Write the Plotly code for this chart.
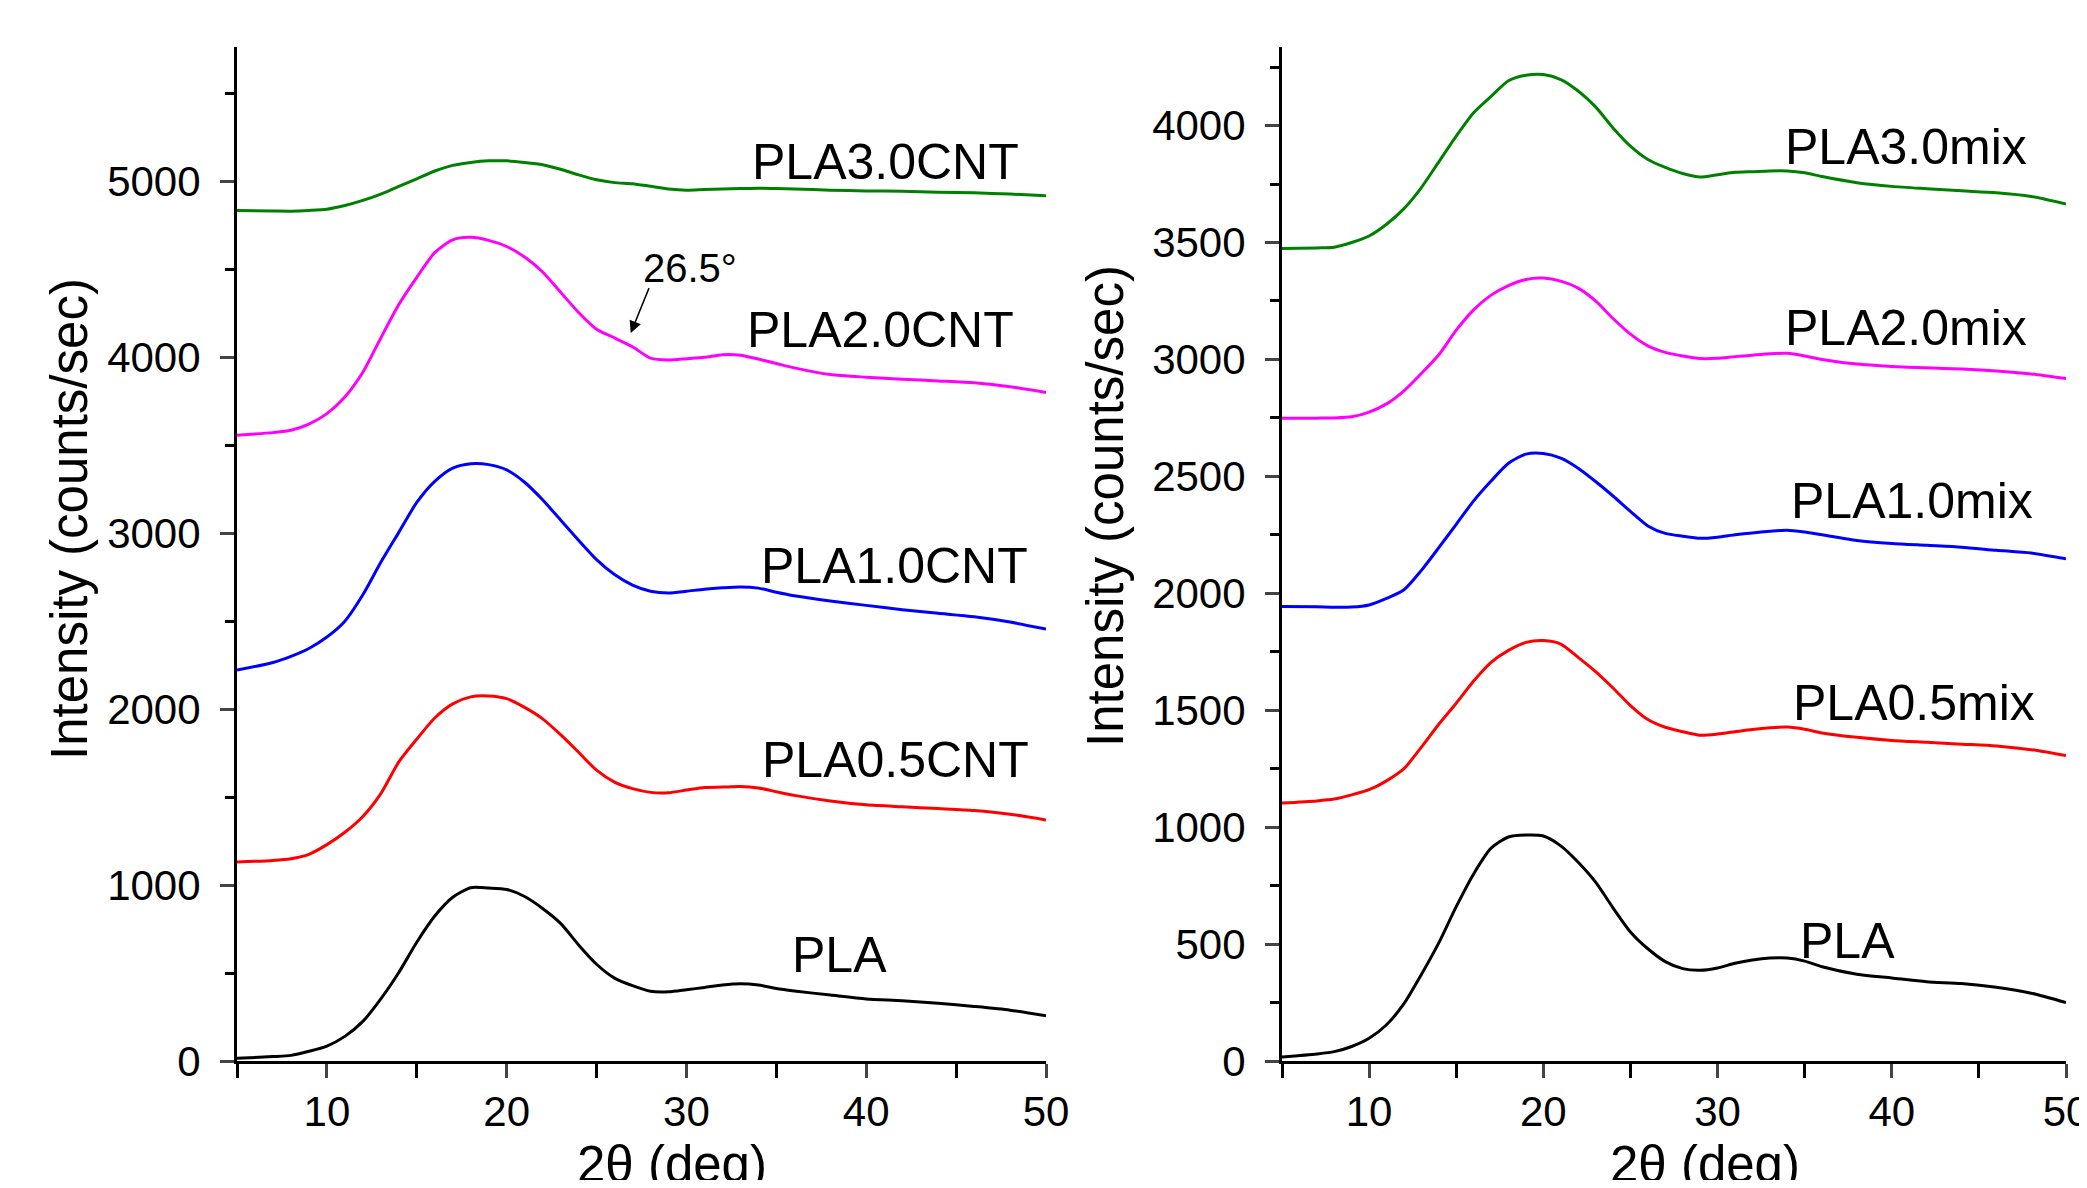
import plotly.graph_objects as go

two_theta = [5, 7, 8, 9, 10, 11, 12, 13, 14, 15, 16, 17, 18, 19, 20, 21, 22, 23, 24, 25,
             26, 27, 28, 29, 30, 31, 32, 33, 34, 35, 36, 38, 40, 42, 44, 46, 48, 50]

# Left panel (PLA / CNT)
pla_left = [15, 25, 32, 55, 85, 140, 225, 353, 503, 675, 824, 931, 985, 983, 975, 935, 867, 782, 660, 550,
            471, 428, 396, 393, 405, 418, 432, 439, 432, 412, 398, 375, 353, 343, 328, 310, 289, 257]
pla05cnt = [1131, 1140, 1150, 1175, 1230, 1300, 1390, 1520, 1700, 1830, 1950, 2030, 2070, 2075, 2060, 2010, 1945, 1855, 1755, 1653,
            1585, 1548, 1527, 1525, 1540, 1555, 1557, 1560, 1552, 1531, 1510, 1478, 1456, 1445, 1435, 1424, 1403, 1370]
pla10cnt = [2222, 2265, 2300, 2345, 2410, 2500, 2650, 2835, 3005, 3175, 3295, 3370, 3395, 3390, 3360, 3290, 3190, 3075, 2960, 2850,
            2765, 2705, 2670, 2660, 2670, 2682, 2690, 2695, 2688, 2665, 2645, 2615, 2590, 2565, 2545, 2525, 2495, 2455]
pla20cnt = [3557, 3572, 3585, 3620, 3680, 3775, 3915, 4110, 4300, 4455, 4595, 4668, 4682, 4665, 4630, 4570, 4485, 4370, 4255, 4160,
            4110, 4060, 3995, 3985, 3992, 4000, 4015, 4012, 3990, 3965, 3940, 3902, 3887, 3876, 3866, 3855, 3833, 3800]
pla30cnt = [4835, 4832, 4831, 4835, 4842, 4863, 4892, 4928, 4972, 5015, 5059, 5091, 5108, 5117, 5117, 5108, 5095, 5069, 5037, 5009,
            4993, 4987, 4972, 4957, 4950, 4954, 4957, 4959, 4961, 4959, 4957, 4950, 4946, 4944, 4939, 4935, 4928, 4918]

# Right panel (PLA / mix)
pla_right = [17, 30, 40, 62, 97, 155, 245, 370, 505, 660, 800, 910, 958, 966, 962, 920, 850, 765, 655, 552,
             480, 425, 395, 388, 398, 418, 432, 440, 440, 427, 403, 371, 355, 339, 331, 315, 290, 250]
pla05mix = [1103, 1112, 1120, 1138, 1160, 1198, 1250, 1342, 1440, 1530, 1625, 1705, 1756, 1790, 1798, 1783, 1726, 1665, 1595, 1520,
            1460, 1427, 1408, 1393, 1398, 1408, 1418, 1425, 1428, 1419, 1403, 1384, 1371, 1363, 1355, 1347, 1331, 1306]
pla10mix = [1944, 1942, 1940, 1941, 1950, 1978, 2015, 2098, 2195, 2295, 2395, 2480, 2556, 2595, 2598, 2578, 2535, 2478, 2416, 2350,
            2288, 2256, 2244, 2235, 2240, 2250, 2258, 2265, 2270, 2262, 2250, 2226, 2213, 2205, 2197, 2184, 2172, 2148]
pla20mix = [2748, 2749, 2750, 2755, 2775, 2810, 2866, 2940, 3020, 3125, 3212, 3275, 3316, 3342, 3348, 3335, 3305, 3250, 3175, 3108,
            3058, 3030, 3015, 3004, 3005, 3012, 3018, 3024, 3026, 3015, 3000, 2980, 2970, 2964, 2959, 2951, 2938, 2918]
pla30mix = [3474, 3477, 3480, 3500, 3528, 3578, 3645, 3735, 3845, 3955, 4055, 4125, 4192, 4215, 4218, 4197, 4148, 4080, 3990, 3912,
            3855, 3821, 3795, 3780, 3790, 3800, 3803, 3806, 3806, 3798, 3782, 3756, 3740, 3730, 3721, 3713, 3697, 3664]

left_series = [("PLA", pla_left, "#000000"), ("PLA0.5CNT", pla05cnt, "#ff0000"),
               ("PLA1.0CNT", pla10cnt, "#0000ff"), ("PLA2.0CNT", pla20cnt, "#ff00ff"),
               ("PLA3.0CNT", pla30cnt, "#008000")]
right_series = [("PLA", pla_right, "#000000"), ("PLA0.5mix", pla05mix, "#ff0000"),
                ("PLA1.0mix", pla10mix, "#0000ff"), ("PLA2.0mix", pla20mix, "#ff00ff"),
                ("PLA3.0mix", pla30mix, "#008000")]

# label positions (data coords)
left_labels = [("PLA3.0CNT", 41.05, 5113), ("PLA2.0CNT", 40.8, 4153), ("PLA1.0CNT", 41.57, 2814),
               ("PLA0.5CNT", 41.64, 1710), ("PLA", 38.53, 605)]
right_labels = [("PLA3.0mix", 40.83, 3909), ("PLA2.0mix", 40.83, 3135), ("PLA1.0mix", 41.14, 2395),
                ("PLA0.5mix", 41.3, 1530), ("PLA", 37.47, 512)]

# the page body has an 8px margin: shrink the figure so it exactly fills the 2087x1188 window
OFF = 8
W, H = 2087 - 2 * OFF, 1188 - 2 * OFF


def px(x):
    return (x - OFF) / W


def py(y):
    return 1 - (y - OFF) / H


fig = go.Figure()
for name, ys, col in left_series:
    fig.add_trace(go.Scatter(x=two_theta, y=ys, mode="lines", name=name,
                             line=dict(color=col, width=3, shape="spline", smoothing=0.7),
                             xaxis="x", yaxis="y", showlegend=False))
for name, ys, col in right_series:
    fig.add_trace(go.Scatter(x=two_theta, y=ys, mode="lines", name=name,
                             line=dict(color=col, width=3, shape="spline", smoothing=0.7),
                             xaxis="x2", yaxis="y2", showlegend=False))

tick_font = dict(family="Liberation Sans, Arial, sans-serif", size=42, color="black")
lab_font = dict(family="Liberation Sans, Arial, sans-serif", size=50, color="black")

common_x = dict(range=[5, 50], tickvals=[10, 20, 30, 40, 50], ticks="outside", ticklen=14, tickwidth=3,
                showline=True, linewidth=3, linecolor="black", showgrid=False, zeroline=False,
                tickfont=tick_font, ticklabelstandoff=-2, automargin=False, ticklabeloverflow="allow",
                minor=dict(tickvals=[5, 15, 25, 35, 45], ticks="outside", ticklen=14, tickwidth=3, tickcolor="black"))
common_y = dict(ticks="outside", ticklen=14, tickwidth=3, showline=True, linewidth=3, linecolor="black",
                showgrid=False, zeroline=False, tickfont=tick_font, ticklabelstandoff=11, automargin=False)

ydom = [py(1061), py(47)]
fig.update_layout(
    width=W, height=H, autosize=False,
    margin=dict(l=0, r=0, t=0, b=0, pad=0, autoexpand=False),
    paper_bgcolor="white", plot_bgcolor="white",
    xaxis=dict(domain=[px(237), px(1046)], anchor="y", **common_x),
    yaxis=dict(domain=ydom, anchor="x", range=[0, 5764], tickvals=[0, 1000, 2000, 3000, 4000, 5000],
               minor=dict(tickvals=[500, 1500, 2500, 3500, 4500, 5500], ticks="outside", ticklen=9,
                          tickwidth=3, tickcolor="black"), **common_y),
    xaxis2=dict(domain=[px(1282), px(2066)], anchor="y2", **common_x),
    yaxis2=dict(domain=ydom, anchor="x2", range=[0, 4336], tickvals=[0, 500, 1000, 1500, 2000, 2500, 3000, 3500, 4000],
                minor=dict(tickvals=[250, 750, 1250, 1750, 2250, 2750, 3250, 3750, 4250], ticks="outside", ticklen=9,
                           tickwidth=3, tickcolor="black"), **common_y),
)

annotations = []
for t, x, y in left_labels:
    annotations.append(dict(text=t, x=x, y=y, xref="x", yref="y", showarrow=False, font=lab_font,
                            xanchor="center", yanchor="middle"))
for t, x, y in right_labels:
    annotations.append(dict(text=t, x=x, y=y, xref="x2", yref="y2", showarrow=False, font=lab_font,
                            xanchor="center", yanchor="middle"))

# 26.5 degree marker
annotations.append(dict(text="26.5°", x=30.17, y=4508, xref="x", yref="y", showarrow=False,
                        xanchor="center", yanchor="middle",
                        font=dict(family="Liberation Sans, Arial, sans-serif", size=40, color="black")))
annotations.append(dict(text="", x=26.9, y=4138, ax=27.95, ay=4402, xref="x", yref="y", axref="x", ayref="y",
                        showarrow=True, arrowhead=2, arrowsize=1.6, arrowwidth=1.5, arrowcolor="black"))

# axis titles
title_font = dict(family="Liberation Sans, Arial, sans-serif", size=51, color="black")
xt_font = dict(family="Liberation Sans, Arial, sans-serif", size=51, color="black")
annotations.append(dict(text="Intensity (counts/sec)", x=px(69), y=py(519), xref="paper", yref="paper",
                        xanchor="center", yanchor="middle", showarrow=False, textangle=-90, font=title_font))
annotations.append(dict(text="Intensity (counts/sec)", x=px(1105), y=py(506), xref="paper", yref="paper",
                        xanchor="center", yanchor="middle", showarrow=False, textangle=-90, font=title_font))
annotations.append(dict(text="2θ (deg)", x=px(672), y=py(1134), xref="paper", yref="paper",
                        xanchor="center", yanchor="top", showarrow=False, font=xt_font))
annotations.append(dict(text="2θ (deg)", x=px(1705), y=py(1134), xref="paper", yref="paper",
                        xanchor="center", yanchor="top", showarrow=False, font=xt_font))
fig.update_layout(annotations=annotations)

fig.write_html("out.html")
